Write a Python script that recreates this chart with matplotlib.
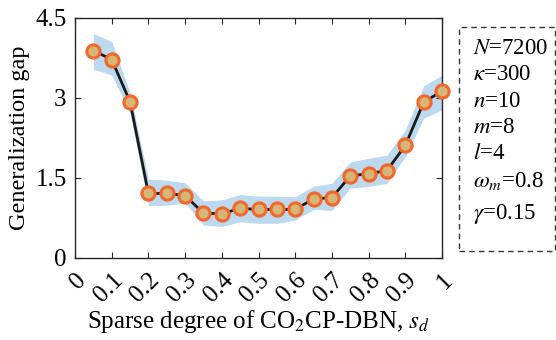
import matplotlib
matplotlib.use('Agg')
import matplotlib.pyplot as plt
from matplotlib.patches import Rectangle

plt.rcParams['font.family'] = ['Liberation Serif', 'DejaVu Serif']
plt.rcParams['mathtext.fontset'] = 'stix'

sd = [0.05, 0.1, 0.15, 0.2, 0.25, 0.3, 0.35, 0.4, 0.45, 0.5,
      0.55, 0.6, 0.65, 0.7, 0.75, 0.8, 0.85, 0.9, 0.95, 1.0]
gap = [3.89, 3.72, 2.93, 1.21, 1.21, 1.17, 0.84, 0.83, 0.93, 0.91,
       0.91, 0.91, 1.11, 1.13, 1.54, 1.58, 1.64, 2.11, 2.92, 3.13]
gap_hi = [4.21, 4.06, 3.10, 1.48, 1.46, 1.41, 1.07, 1.09, 1.19, 1.16,
          1.16, 1.15, 1.35, 1.40, 1.80, 1.87, 1.93, 2.40, 3.23, 3.43]
gap_lo = [3.54, 3.43, 2.72, 0.98, 0.99, 1.03, 0.62, 0.59, 0.68, 0.65,
          0.65, 0.71, 0.91, 0.89, 1.31, 1.34, 1.40, 1.90, 2.62, 2.78]
xticks = [0, 0.1, 0.2, 0.3, 0.4, 0.5, 0.6, 0.7, 0.8, 0.9, 1]
xticklabels = ['0', '0.1', '0.2', '0.3', '0.4', '0.5', '0.6', '0.7', '0.8', '0.9', '1']
yticks = [0, 1.5, 3, 4.5]
yticklabels = ['0', '1.5', '3', '4.5']
params = [r'$N$=7200', r'$\kappa$=300', r'$n$=10', r'$m$=8', r'$l$=4',
          r'$\omega_m$=0.8', r'$\gamma$=0.15']

fig = plt.figure(figsize=(5.56, 3.4), dpi=100)
ax = fig.add_axes([75/556, 1 - 258/340, 367/556, 240/340])

ax.fill_between(sd, gap_lo, gap_hi, color='#bcd9ef', lw=0)
ax.plot(sd, gap, color='#1a1a1a', lw=2, marker='o', ms=9.5,
        mfc='#d4b679', mec='#f2672a', mew=2.2, zorder=3, clip_on=False)

ax.set_xlim(0, 1)
ax.set_ylim(0, 4.5)
ax.set_xticks(xticks)
ax.set_xticklabels(xticklabels, rotation=45, ha='right', rotation_mode='anchor')
ax.set_yticks(yticks)
ax.set_yticklabels(yticklabels)
ax.tick_params(direction='in', top=True, right=True, labelsize=18, length=4,
               width=0.8, color='#262626')
ax.tick_params(axis='x', pad=8)
ax.tick_params(axis='y', pad=6)
for s in ax.spines.values():
    s.set_color('#262626')
    s.set_linewidth(1.0)

ax.set_ylabel('Generalization gap', fontsize=17.5, labelpad=4)
ax.set_xlabel(r'Sparse degree of CO$_2$CP-DBN, $s_d$', fontsize=18, labelpad=1)

# dashed parameter box
box = Rectangle((459/556, 1 - 251/340), 96/556, 224/340, transform=fig.transFigure,
                fill=False, ls=(0, (4, 3)), lw=1, edgecolor='#333333')
fig.patches.append(box)
y0 = 48
for i, t in enumerate(params):
    yy = y0 + i * 26.5
    if i == 6:
        yy += 7
    fig.text(473/556, 1 - yy/340, t, fontsize=16.5, va='center', ha='left')

fig.savefig('out.png', dpi=100)
